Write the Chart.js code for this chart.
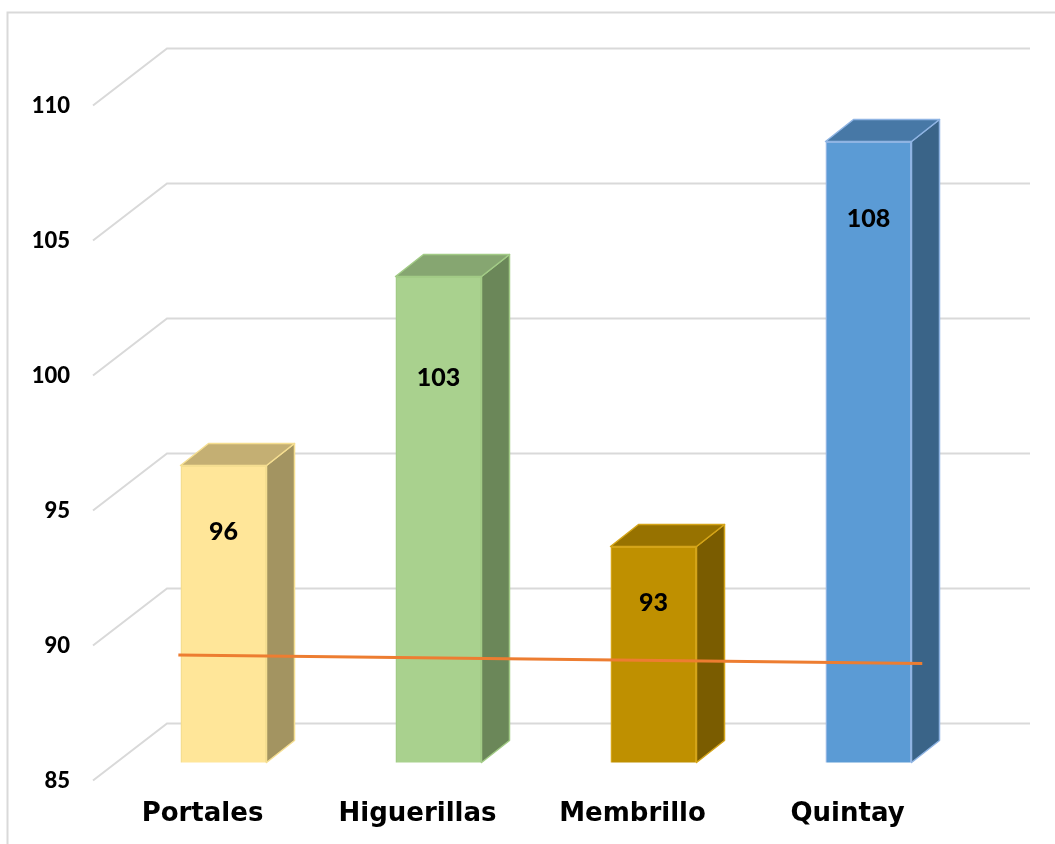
<!DOCTYPE html>
<html>
<head>
<meta charset="utf-8">
<script src="https://cdn.jsdelivr.net/npm/chart.js@4.4.0/dist/chart.umd.min.js"></script>
<style>
  body { margin: 0; background: #fff; }
  #wrap { width: 1055px; height: 844px; position: relative; }
</style>
</head>
<body>
<div id="wrap"><canvas id="grafico"></canvas></div>
<script>
// datos
const categorias = ['Portales', 'Higuerillas', 'Membrillo', 'Quintay'];
const valores = [96, 103, 93, 108];
// linea naranja (posicion en categorias, valor)
const lineaX = [-0.21, 3.25];
const lineaY = [88.98, 88.67];
const ejeMin = 85;
const ejeMax = 110;
const ejePaso = 5;

// colores de cada barra: frente, tapa, lado, borde
const frente = ['#FFE699', '#A9D18E', '#BF9000', '#5B9BD5'];
const tapa = ['#C4AF73', '#86A671', '#977200', '#4778A6'];
const lado = ['#A39461', '#6B8759', '#7A5C00', '#3A6488'];
const borde = ['#F5DE91', '#A2CB86', '#D4A418', '#8FB4E3'];

// profundidad 3D
const prof = { frenteX: 23, frenteY: 18, fondoX: 51, fondoY: 39, barX: 28, barY: 22 };
// bajada de las etiquetas desde la tapa de cada barra (px)
const bajadaEtiqueta = [66, 101, 56, 77];

const marco3D = {
  id: 'marco3D',
  beforeDraw(chart) {
    const ctx = chart.ctx;
    ctx.save();
    ctx.strokeStyle = '#D9D9D9';
    ctx.lineWidth = 2;
    ctx.strokeRect(7.5, 12.5, 1200, 1000);
    ctx.restore();
  },
  beforeDatasetsDraw(chart) {
    const { ctx, chartArea } = chart;
    const y = chart.scales.y;
    const x0 = chartArea.left;
    ctx.save();
    ctx.strokeStyle = '#D9D9D9';
    ctx.lineWidth = 2;
    y.ticks.forEach(t => {
      const py = y.getPixelForValue(t.value);
      ctx.beginPath();
      ctx.moveTo(x0 - prof.frenteX, py + prof.frenteY);
      ctx.lineTo(x0 + prof.fondoX, py - prof.fondoY);
      ctx.lineTo(1030, py - prof.fondoY);
      ctx.stroke();
    });
    ctx.restore();
  },
  afterDatasetDraw(chart, args) {
    if (args.meta.type !== 'bar') return;
    const ctx = chart.ctx;
    const base = chart.scales.y.getPixelForValue(ejeMin);
    ctx.save();
    ctx.lineWidth = 1.5;
    ctx.lineJoin = 'round';
    args.meta.data.forEach((bar, i) => {
      const x = bar.x, y = bar.y, width = bar.width;
      const l = x - width / 2, r = x + width / 2;
      const dx = prof.barX, dy = prof.barY;
      // lado
      ctx.beginPath();
      ctx.moveTo(r, y);
      ctx.lineTo(r + dx, y - dy);
      ctx.lineTo(r + dx, base - dy);
      ctx.lineTo(r, base);
      ctx.closePath();
      ctx.fillStyle = lado[i];
      ctx.fill();
      ctx.strokeStyle = borde[i];
      ctx.stroke();
      // tapa
      ctx.beginPath();
      ctx.moveTo(l, y);
      ctx.lineTo(l + dx, y - dy);
      ctx.lineTo(r + dx, y - dy);
      ctx.lineTo(r, y);
      ctx.closePath();
      ctx.fillStyle = tapa[i];
      ctx.fill();
      ctx.stroke();
    });
    // etiquetas de valor
    ctx.fillStyle = '#000';
    ctx.font = '900 25px Lato';
    ctx.textAlign = 'center';
    ctx.textBaseline = 'middle';
    args.meta.data.forEach((bar, i) => {
      ctx.fillText(String(valores[i]), bar.x, bar.y + bajadaEtiqueta[i]);
    });
    ctx.restore();
  }
};

new Chart(document.getElementById('grafico'), {
  type: 'bar',
  data: {
    labels: categorias,
    datasets: [
      {
        type: 'bar',
        data: valores,
        backgroundColor: frente,
        borderColor: borde,
        borderWidth: 1.5,
        barPercentage: 0.4,
        categoryPercentage: 1,
        grouped: false,
        order: 1
      },
      {
        type: 'line',
        data: lineaX.map((v, i) => ({ x: v, y: lineaY[i] })),
        xAxisID: 'xLinea',
        borderColor: '#ED7D31',
        borderWidth: 3,
        pointRadius: 0,
        fill: false,
        order: 0
      }
    ]
  },
  options: {
    responsive: true,
    maintainAspectRatio: false,
    animation: false,
    events: [],
    layout: { padding: { top: 87.5, right: 79, left: 0, bottom: 0 } },
    plugins: {
      legend: { display: false },
      tooltip: { enabled: false }
    },
    scales: {
      x: {
        grid: { display: false, drawTicks: false },
        border: { display: false },
        afterFit(s) { s.height = 81.5; },
        ticks: {
          color: '#000',
          padding: 36,
          labelOffset: -21,
          font: { family: 'DejaVu Sans', size: 26, weight: 'bold' }
        }
      },
      xLinea: {
        type: 'linear',
        display: false,
        offset: false,
        grid: { offset: false },
        min: -0.5,
        max: 3.5
      },
      y: {
        min: ejeMin,
        max: ejeMax,
        grid: { display: false, drawTicks: false },
        border: { display: false },
        afterFit(s) { s.width = 116; },
        ticks: {
          stepSize: ejePaso,
          color: '#000',
          padding: 46,
          labelOffset: 18,
          font: { family: 'Lato', size: 22, weight: '900' }
        }
      }
    }
  },
  plugins: [marco3D]
});
</script>
</body>
</html>
